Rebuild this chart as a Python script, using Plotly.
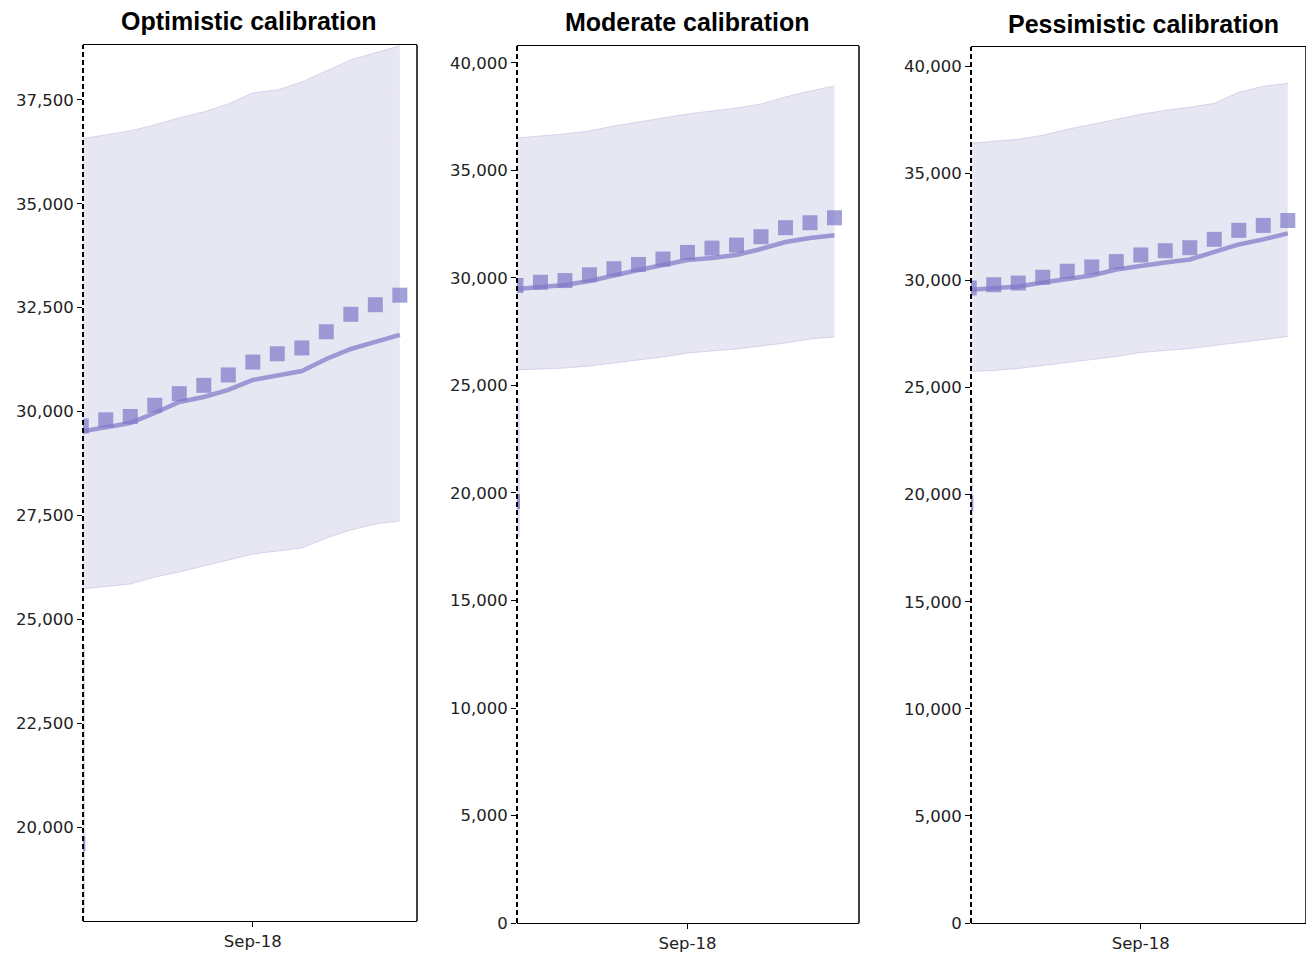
import pandas as pd
import plotly.graph_objects as go

# ---------------- data ----------------
panel_titles = ["Optimistic calibration", "Moderate calibration", "Pessimistic calibration"]
obs_dates = pd.date_range("2018-07-14", periods=14, freq="7D")
obs_values = [29650, 29800, 29880, 30150, 30430, 30630, 30880, 31190, 31390, 31530, 31920, 32340, 32570, 32800]

hist_date = pd.Timestamp("2018-07-13")
hist_value = 19600
hist_low = 17950
hist_high = 24380

model_dates = obs_dates
opt_mid = [29520, 29620, 29725, 29965, 30230, 30350, 30520, 30760, 30856, 30976, 31265, 31505, 31674, 31843]
opt_low = [25729, 25790, 25849, 26017, 26138, 26282, 26427, 26571, 26643, 26716, 26956, 27149, 27293, 27366]
opt_high = [36561, 36657, 36753, 36898, 37066, 37211, 37403, 37668, 37740, 37932, 38197, 38462, 38631, 38799]

mod_mid = [29488, 29581, 29674, 29860, 30140, 30372, 30605, 30837, 30930, 31070, 31349, 31674, 31860, 31990]
mod_low = [25721, 25767, 25814, 25907, 26047, 26186, 26326, 26512, 26605, 26698, 26837, 26977, 27163, 27256]
mod_high = [36512, 36605, 36698, 36837, 37070, 37256, 37442, 37628, 37767, 37907, 38093, 38419, 38698, 38930]

pes_mid = [29560, 29626, 29720, 29907, 30093, 30234, 30514, 30701, 30841, 30981, 31355, 31682, 31916, 32196]
pes_low = [25748, 25794, 25888, 26028, 26168, 26308, 26449, 26636, 26729, 26822, 26963, 27103, 27243, 27383]
pes_high = [36402, 36495, 36589, 36776, 37056, 37290, 37523, 37757, 37944, 38084, 38271, 38785, 39065, 39206]

x_tick_vals = [pd.Timestamp("2018-09-01")]
x_tick_text = ["Sep-18"]

panels = [
    (opt_mid, opt_low, opt_high),
    (mod_mid, mod_low, mod_high),
    (pes_mid, pes_low, pes_high),
]

# ---------------- layout geometry ----------------
W, H = 1298, 966
OFF = 8          # page body margin
H_EFF = H - 10   # effective drawn height observed in the renderer


def px_x(p):
    return min(1.0, (p - OFF) / W)


def px_y(p):
    return 1 - (p - OFF) / H_EFF


x_domains = [(px_x(83), px_x(417)), (px_x(517), px_x(859)), (px_x(971), px_x(1306))]
y_domains = [(px_y(921), px_y(45)), (px_y(923), px_y(46)), (px_y(923), px_y(47))]
title_centers = [249, 687, 1143]
base = obs_dates[0]
x_ranges_days = [(0.5, 95.9), (0.3, 98.0), (0.5, 96.2)]
y_ranges = [(17740, 38820), (0, 40790), (0, 40900)]
y_dticks = [2500, 5000, 5000]
title_y = [21, 22, 24]

band_fill = "rgba(185,182,222,0.35)"
band_edge = "rgba(185,182,222,0.5)"
main_col = "rgba(128,122,200,0.72)"
tick_font = dict(family="DejaVu Sans", size=16.5, color="#222")

fig = go.Figure()
for i, (mid, low, high) in enumerate(panels):
    xa = "x" if i == 0 else f"x{i+1}"
    ya = "y" if i == 0 else f"y{i+1}"
    fig.add_trace(go.Scatter(x=model_dates, y=low, mode="lines", line=dict(color=band_edge, width=1),
                             xaxis=xa, yaxis=ya, showlegend=False, hoverinfo="skip"))
    fig.add_trace(go.Scatter(x=model_dates, y=high, mode="lines", line=dict(color=band_edge, width=1),
                             fill="tonexty", fillcolor=band_fill,
                             xaxis=xa, yaxis=ya, showlegend=False, hoverinfo="skip"))
    fig.add_trace(go.Scatter(x=model_dates, y=mid, mode="lines", line=dict(color=main_col, width=4.5),
                             xaxis=xa, yaxis=ya, showlegend=False))
    fig.add_trace(go.Scatter(x=obs_dates, y=obs_values, mode="markers",
                             marker=dict(symbol="square", size=15, color=main_col, line=dict(width=0)),
                             xaxis=xa, yaxis=ya, showlegend=False))
    fig.add_trace(go.Scatter(x=[hist_date], y=[hist_value], mode="markers",
                             marker=dict(symbol="square", size=15, color="rgba(128,122,200,0.8)", line=dict(width=0)),
                             error_y=dict(type="data", symmetric=False,
                                          array=[hist_high - hist_value], arrayminus=[hist_value - hist_low],
                                          color="rgba(185,182,222,0.45)", thickness=15, width=0),
                             xaxis=xa, yaxis=ya, showlegend=False))

    r0, r1 = x_ranges_days[i]
    xr = [base + pd.Timedelta(days=r0), base + pd.Timedelta(days=r1)]
    fig.update_layout(**{
        ("xaxis" if i == 0 else f"xaxis{i+1}"): dict(
            domain=list(x_domains[i]), anchor=ya, type="date", range=xr,
            tickvals=x_tick_vals, ticktext=x_tick_text, ticks="outside", ticklen=5,
            tickcolor="black", showline=True, mirror=True, linecolor="black", linewidth=1,
            showgrid=False, zeroline=False, tickfont=tick_font,
        ),
        ("yaxis" if i == 0 else f"yaxis{i+1}"): dict(
            domain=list(y_domains[i]), anchor=xa, range=list(y_ranges[i]), dtick=y_dticks[i], tick0=0,
            tickformat=",d", ticks="outside", ticklen=5, tickcolor="black", showline=False,
            showgrid=False, zeroline=False, tickfont=tick_font,
        ),
    })
    # left dashed line, right solid spine
    fig.add_shape(type="line", xref=f"{xa} domain", yref=f"{ya} domain", x0=0, x1=0, y0=0, y1=1,
                  line=dict(color="black", width=2, dash="5px,3px"))
    fig.add_shape(type="line", xref=f"{xa} domain", yref=f"{ya} domain", x0=1, x1=1, y0=0, y1=1,
                  line=dict(color="black", width=1.5))
    fig.add_annotation(text="<b>" + panel_titles[i] + "</b>", xref="paper", yref="paper",
                       x=px_x(title_centers[i]), y=px_y(title_y[i]),
                       xanchor="center", yanchor="middle", showarrow=False,
                       font=dict(family="Liberation Sans", size=25, color="black"))

fig.update_layout(width=W, height=H, margin=dict(l=0, r=0, t=0, b=0),
                  paper_bgcolor="white", plot_bgcolor="white")
fig.write_html("out.html")
